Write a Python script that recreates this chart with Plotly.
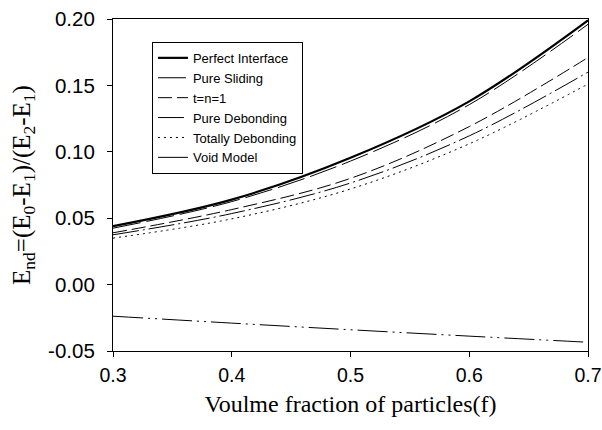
import plotly.graph_objects as go

# Data
f_vals = [0.30, 0.40, 0.50, 0.60, 0.70]
perfect_interface = [0.0440, 0.0640, 0.0955, 0.1380, 0.1990]
pure_sliding = [0.0425, 0.0625, 0.0930, 0.1355, 0.1960]
t_n_1 = [0.0390, 0.0565, 0.0800, 0.1190, 0.1710]
pure_debonding = [0.0375, 0.0535, 0.0765, 0.1120, 0.1600]
totally_debonding = [0.0350, 0.0495, 0.0720, 0.1060, 0.1510]
void_model = [-0.0238, -0.0290, -0.0340, -0.0388, -0.0434]

x_ticks = [0.3, 0.4, 0.5, 0.6, 0.7]
x_labels = ["0.3", "0.4", "0.5", "0.6", "0.7"]
y_ticks = [-0.05, 0.0, 0.05, 0.10, 0.15, 0.20]
y_labels = ["-0.05", "0.00", "0.05", "0.10", "0.15", "0.20"]

series = [
    ("Perfect Interface", perfect_interface, 2.2, "solid"),
    ("Pure Sliding", pure_sliding, 1.0, "28px,6px"),
    ("t=n=1", t_n_1, 1.0, "14px,5px"),
    ("Pure Debonding", pure_debonding, 1.0, "26px,4px,2px,4px"),
    ("Totally Debonding", totally_debonding, 1.0, "2px,4px"),
    ("Void Model", void_model, 1.0, "30px,5px,2px,5px,2px,5px"),
]

fig = go.Figure()
for name, ys, w, dash in series:
    fig.add_trace(go.Scatter(
        x=f_vals, y=ys, mode="lines", name=name,
        line=dict(color="black", width=w, dash=dash, shape="spline", smoothing=1.0),
    ))

axis_common = dict(
    showline=True, linecolor="black", linewidth=1.2, mirror=True,
    ticks="outside", ticklen=5, tickwidth=1.2, tickcolor="black",
    showgrid=False, zeroline=False, automargin=False,
    ticklabeloverflow="allow",
)

fig.update_layout(
    width=602, height=430,
    margin=dict(l=113, r=14, t=19, b=79, autoexpand=False),
    paper_bgcolor="white", plot_bgcolor="white",
    showlegend=True,
    legend=dict(
        x=0.082, y=0.931, xanchor="left", yanchor="top",
        bordercolor="black", borderwidth=1, bgcolor="white",
        font=dict(family="Liberation Sans, Arial", size=13, color="black"),
        tracegroupgap=0,
    ),
    xaxis=dict(
        range=[0.3, 0.7], tickvals=x_ticks, ticktext=x_labels,
        ticklabelstandoff=1,
        tickfont=dict(family="Liberation Sans, Arial", size=19.5, color="black"),
        title=dict(text="Voulme fraction of particles(f)",
                   font=dict(family="Liberation Serif, Times New Roman", size=24, color="black"),
                   standoff=10),
        **axis_common,
    ),
    yaxis=dict(
        range=[-0.05, 0.20], tickvals=y_ticks, ticktext=y_labels,
        ticklabelstandoff=8,
        tickfont=dict(family="Liberation Sans, Arial", size=20.5, color="black"),
        title=dict(text="E<sub>nd</sub>=(E<sub>0</sub>-E<sub>1</sub>)/(E<sub>2</sub>-E<sub>1</sub>)",
                   font=dict(family="Liberation Serif, Times New Roman", size=25, color="black"),
                   standoff=10),
        **axis_common,
    ),
)

fig.write_html("out.html")
